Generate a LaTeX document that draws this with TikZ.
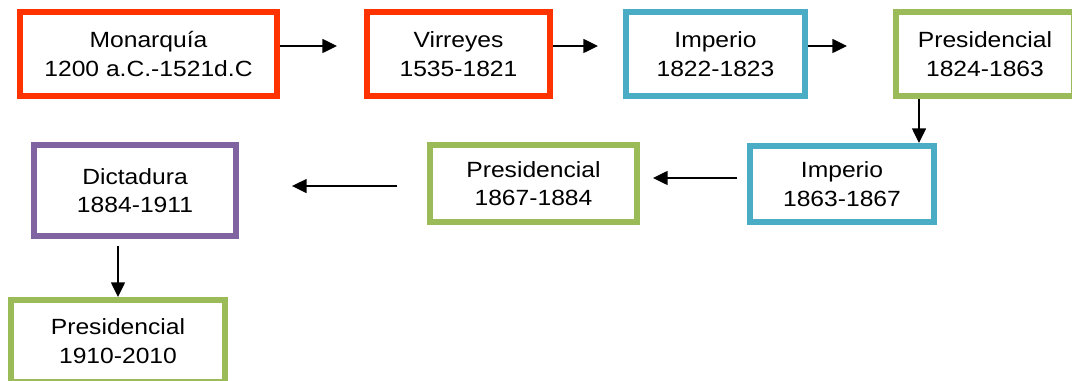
\documentclass[tikz,border=0pt]{standalone}
\usepackage{fontspec}
\newfontfamily\boxfont{Liberation Sans}[FakeStretch=1.12]
\usetikzlibrary{arrows.meta}
\definecolor{rojo}{HTML}{FF3300}
\definecolor{azul}{HTML}{4BACC6}
\definecolor{verde}{HTML}{9BBB59}
\definecolor{morado}{HTML}{8064A2}
\begin{document}
\begin{tikzpicture}[x=0.75pt,y=-0.75pt,
  etapa/.style={draw,line width=4.5pt,fill=white,align=center,inner sep=0pt,
    font=\boxfont\fontsize{16.5}{21.5}\selectfont,minimum height=63pt},
  flecha/.style={-{Triangle[length=11pt,width=10.5pt]},line width=1.1pt}]

\useasboundingbox (0,0) rectangle (1072,381);
\clip (0,0) rectangle (1072,381);

\node [etapa,draw=rojo,minimum width=192.75pt] (mon) at (148.5,54) {Monarquía\\1200 a.C.-1521d.C};
\node [etapa,draw=rojo,minimum width=137.25pt] (vir) at (458.5,54) {Virreyes\\1535-1821};
\node [etapa,draw=azul,minimum width=134.25pt] (imp1) at (715.5,54) {Imperio\\1822-1823};
\node [etapa,draw=verde,minimum width=133.5pt] (pre1) at (985,54) {Presidencial\\1824-1863};
\node [etapa,draw=azul,minimum width=138pt,minimum height=57pt] (imp2) at (842,184) {Imperio\\1863-1867};
\node [etapa,draw=verde,minimum width=155.25pt,minimum height=57.75pt] (pre2) at (533.5,183.5) {Presidencial\\1867-1884};
\node [etapa,draw=morado,minimum width=151.5pt,minimum height=68.25pt] (dic) at (135,190.5) {Dictadura\\1884-1911};
\node [etapa,draw=verde,minimum width=160.5pt,minimum height=61.5pt] (pre3) at (118,341) {Presidencial\\1910-2010};

\coordinate (bajada) at (919,0);

\draw [flecha,shorten >=20.25pt] ([yshift=6pt]mon.east) -- ([yshift=6pt]mon.east -| vir.west);  %fila 1
\draw [flecha,shorten >=18.75pt] ([yshift=6pt]vir.east) -- ([yshift=6pt]vir.east -| imp1.west);
\draw [flecha,shorten >=34.5pt] ([yshift=6pt]imp1.east) -- ([yshift=6pt]imp1.east -| pre1.west);
\draw [flecha] (pre1.south -| bajada) -- (imp2.north -| bajada);  %bajada
\draw [flecha,shorten <=7.5pt,shorten >=9.75pt] ([yshift=4.5pt]imp2.west) -- ([yshift=4.5pt]imp2.west -| pre2.east);  %fila 2
\draw [flecha,shorten <=22.5pt,shorten >=39.75pt] ([yshift=-1.9pt]pre2.west) -- ([yshift=-1.9pt]pre2.west -| dic.east);
\draw [flecha,shorten <=5.25pt] (dic.south -| pre3.north) -- (pre3.north);

\end{tikzpicture}
\end{document}
